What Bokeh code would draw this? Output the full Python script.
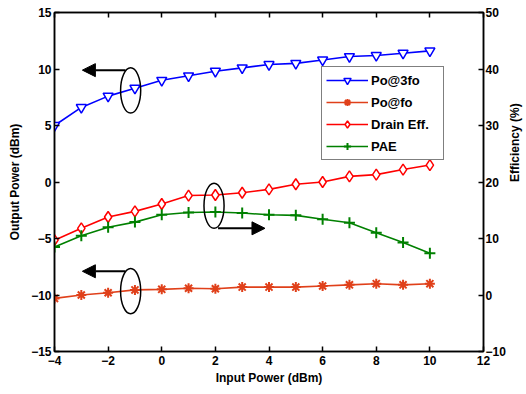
import math
from bokeh.plotting import figure
from bokeh.models import (Range1d, LinearAxis, FixedTicker, Legend, LegendItem, Arrow, NormalHead,
                          CustomJSTickFormatter)
from bokeh.embed import file_html
from bokeh.resources import INLINE

# ---- data ----
pin = [-4, -3, -2, -1, 0, 1, 2, 3, 4, 5, 6, 7, 8, 9, 10]
po_3fo = [5.0, 6.6, 7.6, 8.3, 9.0, 9.4, 9.8, 10.1, 10.4, 10.5, 10.8, 11.1, 11.2, 11.4, 11.6]
po_fo = [-10.3, -10.0, -9.8, -9.55, -9.5, -9.4, -9.45, -9.3, -9.3, -9.3, -9.2, -9.1, -9.0, -9.1, -9.0]
drain_eff = [9.7, 11.8, 13.8, 14.8, 16.1, 17.6, 17.7, 18.1, 18.7, 19.6, 20.0, 21.0, 21.3, 22.2, 23.0]
pae = [8.5, 10.5, 12.0, 12.9, 14.2, 14.6, 14.7, 14.5, 14.2, 14.1, 13.4, 12.8, 11.0, 9.3, 7.4]

x_ticks = [-4, -2, 0, 2, 4, 6, 8, 10, 12]
left_ticks = [-15, -10, -5, 0, 5, 10, 15]
right_ticks = [-10, 0, 10, 20, 30, 40, 50]

# annotation positions (left-axis data units)
ell_x = [-1.16, -1.16, 1.95]
ell_y = [8.1, -9.66, -2.1]
arrow_tail_x = [-1.35, -1.35, 2.1]
arrow_head_x = [-2.96, -2.96, 3.85]
arrow_y = [9.9, -7.9, -4.1]

FONT = "Liberation Sans"

p = figure(width=526, height=394, frame_width=429, frame_height=339,
           output_backend="svg", toolbar_location=None,
           x_range=Range1d(-4, 12), y_range=Range1d(-15, 15),
           min_border_left=54, min_border_top=12, min_border_right=43, min_border_bottom=43)
p.extra_y_ranges = {"eff": Range1d(-10, 50)}
p.xgrid.visible = False
p.ygrid.visible = False
p.outline_line_color = "black"
p.outline_line_width = 1.5
p.background_fill_color = "white"
p.border_fill_color = "white"

def style_axis(ax, ticks):
    ax.ticker = FixedTicker(ticks=ticks)
    ax.major_tick_in = 5
    ax.major_tick_out = 0
    ax.minor_tick_line_color = None
    ax.axis_line_color = "black"
    ax.axis_line_width = 1.5
    ax.major_tick_line_width = 1.5
    ax.major_label_text_font = FONT
    ax.major_label_text_font_style = "bold"
    ax.major_label_text_font_size = "12px"
    ax.major_label_text_color = "black"
    ax.axis_label_text_font = FONT
    ax.axis_label_text_font_style = "bold"
    ax.axis_label_text_font_size = "12px"
    ax.axis_label_text_color = "black"

style_axis(p.xaxis[0], x_ticks)
p.xaxis[0].axis_label = "Input Power (dBm)"
p.xaxis[0].axis_label_standoff = 3
p.xaxis[0].major_label_standoff = 4
style_axis(p.yaxis[0], left_ticks)
p.yaxis[0].axis_label = "Output Power (dBm)"
p.yaxis[0].axis_label_standoff = 6
p.yaxis[0].major_label_standoff = 3

right = LinearAxis(y_range_name="eff", axis_label="Efficiency (%)")
style_axis(right, right_ticks)
right.axis_label_standoff = 6
right.major_label_standoff = 2
right.axis_label_orientation = math.pi / 2
p.add_layout(right, "right")

top = LinearAxis()
style_axis(top, x_ticks)
top.formatter = CustomJSTickFormatter(code="return ''")
top.major_label_standoff = 0
p.add_layout(top, "above")

blue = "#0000FF"
orange = "#E0401A"
red = "#FF0000"
green = "#008000"

l1 = p.line(pin, po_3fo, color=blue, line_width=1.6)
s1 = p.scatter(pin, po_3fo, marker="inverted_triangle", size=10, line_color=blue, fill_color="white", line_width=1.5)
l2 = p.line(pin, po_fo, color=orange, line_width=1.6)
s2 = p.scatter(pin, po_fo, marker="asterisk", size=10, line_color=orange, line_width=2)
l3 = p.line(pin, drain_eff, color=red, line_width=1.6, y_range_name="eff")
s3 = p.scatter(pin, drain_eff, marker="diamond", size=11, line_color=red, fill_color="white", line_width=1.5, y_range_name="eff")
l4 = p.line(pin, pae, color=green, line_width=1.6, y_range_name="eff")
s4 = p.scatter(pin, pae, marker="cross", size=11, line_color=green, line_width=2, y_range_name="eff")

p.ellipse(ell_x, ell_y, width=0.75, height=4.0, fill_color=None, line_color="black", line_width=1.5)
for tx, hx, ay in zip(arrow_tail_x, arrow_head_x, arrow_y):
    p.add_layout(Arrow(x_start=tx, y_start=ay, x_end=hx, y_end=ay, line_width=2, line_color="black",
                       end=NormalHead(size=13, fill_color="black", line_color="black")))

legend = Legend(items=[
    LegendItem(label="Po@3fo", renderers=[l1, s1]),
    LegendItem(label="Po@fo", renderers=[l2, s2]),
    LegendItem(label="Drain Eff.", renderers=[l3, s3]),
    LegendItem(label="PAE", renderers=[l4, s4]),
], location=(267, 191))
legend.label_text_font = FONT
legend.label_text_font_size = "13px"
legend.label_text_font_style = "bold"
legend.label_text_color = "black"
legend.label_height = 18
legend.label_width = 68
legend.border_line_color = "black"
legend.border_line_width = 1
legend.glyph_width = 42
legend.glyph_height = 18
legend.spacing = 4
legend.padding = 4
legend.margin = 0
legend.label_standoff = 3
legend.background_fill_alpha = 1
p.add_layout(legend, "center")

open("out.html", "w").write(file_html(p, INLINE))
